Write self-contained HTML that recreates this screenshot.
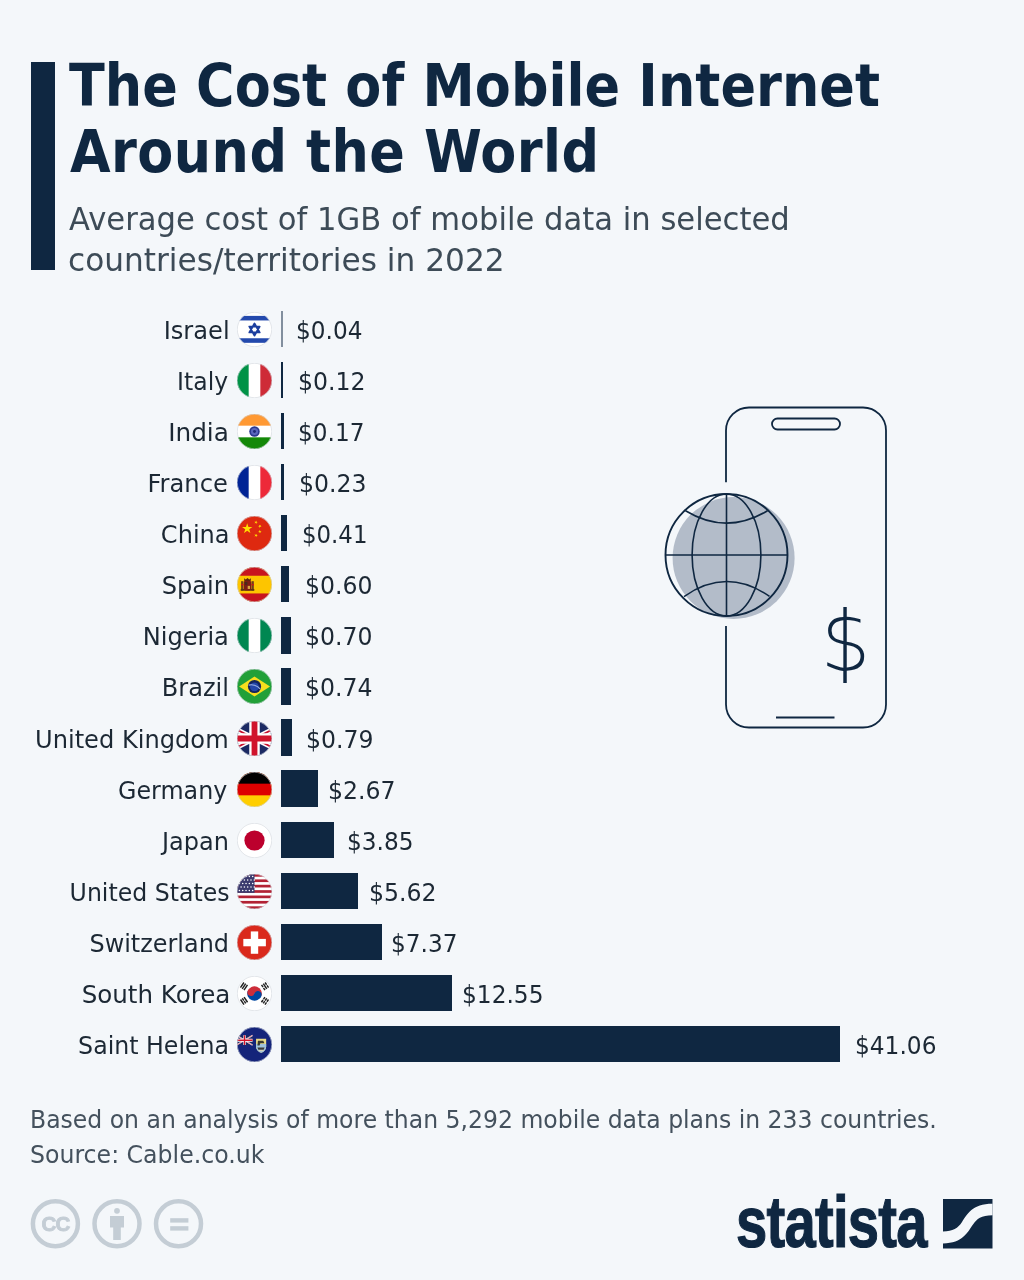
<!DOCTYPE html>
<html lang="en">
<head>
<meta charset="utf-8">
<title>The Cost of Mobile Internet Around the World</title>
<style>
html,body{margin:0;padding:0}
body{width:1024px;height:1280px;background:#f4f7fa;position:relative;overflow:hidden;font-family:"DejaVu Sans","Liberation Sans",sans-serif;color:#1c2834}
.abs{position:absolute}
.accent{left:31px;top:62px;width:23.5px;height:208px;background:#0f2741}
h1{margin:0;font-family:"DejaVu Sans Condensed","DejaVu Sans","Liberation Sans",sans-serif;font-weight:bold;font-size:58.3px;color:#0f2741}
h1 span,.sub span,.note span{position:absolute;white-space:nowrap;display:block;transform-origin:0 50%}
h1 span{line-height:70px;height:70px}
.sub{margin:0;font-size:32.4px;color:#3d4b57}
.sub span{line-height:44px;height:44px}
.lab{position:absolute;height:36px;line-height:36px;font-size:24px;white-space:nowrap;text-align:right;transform-origin:100% 50%}
.val{position:absolute;height:36px;line-height:36px;font-size:24px;white-space:nowrap;transform-origin:0 50%}
.bar{position:absolute;height:36.4px;background:#0f2741}
.flag{position:absolute;left:236.6px;width:35px;height:35px}
.note{margin:0;font-size:24px;color:#44515d}
.note span{line-height:34px;height:34px}
.logo{position:absolute;left:736px;top:1182px;font-family:"Liberation Sans",sans-serif;font-weight:bold;font-size:73px;line-height:80px;color:#0f2741;-webkit-text-stroke:1.2px #0f2741;transform-origin:0 0;transform:scaleX(0.77);white-space:nowrap;letter-spacing:-1px}
</style>
</head>
<body>
<div class="abs accent"></div>
<h1><span style="left:69.00px;top:50.50px;letter-spacing:0.038px">The Cost of Mobile Internet</span> <span style="left:70.00px;top:117.00px;letter-spacing:0.440px">Around the World</span></h1>
<p class="sub"><span style="left:69.00px;top:197.40px;transform:scaleX(0.9458)">Average cost of 1GB of mobile data in selected</span> <span style="left:68.00px;top:238.20px;transform:scaleX(0.9632)">countries/territories in 2022</span></p>

<div class="lab" style="top:313.00px;right:794.90px;transform:scaleX(1.0050)">Israel</div>
<svg class="flag" style="top:311.95px" viewBox="0 0 36 36"><clipPath id="c0"><circle cx="18" cy="18" r="18"/></clipPath><g clip-path="url(#c0)"><rect width="36" height="36" fill="#fff"/><rect y="4" width="36" height="4.7" fill="#2349ad"/><rect y="27" width="36" height="4.7" fill="#2349ad"/><path d="M18,11.9 23.3,21 12.7,21Z M18,24.1 12.7,15 23.3,15Z" fill="none" stroke="#1d3f9f" stroke-width="1.9" stroke-linejoin="round"/></g><circle cx="18" cy="18" r="17.7" fill="none" stroke="#cfd4da" stroke-width="0.6"/></svg>
<div class="bar" style="left:281.25px;top:310.8px;width:1.3px;opacity:.5"></div>
<div class="val" style="left:295.79px;top:313.00px;transform:scaleX(0.9662)">$0.04</div>
<div class="lab" style="top:364.07px;right:795.90px;transform:scaleX(0.9792)">Italy</div>
<svg class="flag" style="top:363.02px" viewBox="0 0 36 36"><clipPath id="c1"><circle cx="18" cy="18" r="18"/></clipPath><g clip-path="url(#c1)"><rect width="36" height="36" fill="#fff"/><rect width="12" height="36" fill="#009246"/><rect x="24" width="12" height="36" fill="#ce2b37"/></g><circle cx="18" cy="18" r="17.7" fill="none" stroke="#cfd4da" stroke-width="0.6"/></svg>
<div class="bar" style="left:281.25px;top:361.9px;width:1.6px"></div>
<div class="val" style="left:297.88px;top:364.07px;transform:scaleX(0.9826)">$0.12</div>
<div class="lab" style="top:415.14px;right:794.90px;transform:scaleX(1.0306)">India</div>
<svg class="flag" style="top:414.09px" viewBox="0 0 36 36"><clipPath id="c2"><circle cx="18" cy="18" r="18"/></clipPath><g clip-path="url(#c2)"><rect width="36" height="36" fill="#fff"/><rect width="36" height="12" fill="#ff9933"/><rect y="24" width="36" height="12" fill="#138808"/><circle cx="18" cy="18" r="5.4" fill="#2b3990"/><circle cx="18" cy="18" r="3.7" fill="#5a66bd"/><circle cx="18" cy="18" r="1.5" fill="#1f2a78"/></g><circle cx="18" cy="18" r="17.7" fill="none" stroke="#cfd4da" stroke-width="0.6"/></svg>
<div class="bar" style="left:281.25px;top:412.9px;width:2.3px"></div>
<div class="val" style="left:297.56px;top:415.14px;transform:scaleX(0.9662)">$0.17</div>
<div class="lab" style="top:466.21px;right:795.90px;transform:scaleX(1.0074)">France</div>
<svg class="flag" style="top:465.16px" viewBox="0 0 36 36"><clipPath id="c3"><circle cx="18" cy="18" r="18"/></clipPath><g clip-path="url(#c3)"><rect width="36" height="36" fill="#fff"/><rect width="12" height="36" fill="#002395"/><rect x="24" width="12" height="36" fill="#ed2939"/></g><circle cx="18" cy="18" r="17.7" fill="none" stroke="#cfd4da" stroke-width="0.6"/></svg>
<div class="bar" style="left:281.25px;top:464.0px;width:3.1px"></div>
<div class="val" style="left:299.38px;top:466.21px;transform:scaleX(0.9816)">$0.23</div>
<div class="lab" style="top:517.28px;right:794.90px;transform:scaleX(1.0024)">China</div>
<svg class="flag" style="top:516.23px" viewBox="0 0 36 36"><clipPath id="c4"><circle cx="18" cy="18" r="18"/></clipPath><g clip-path="url(#c4)"><rect width="36" height="36" fill="#de2910"/><polygon transform="translate(10.5,13) rotate(0) scale(5.6)" points="0,-1 0.2245,-0.309 0.951,-0.309 0.363,0.118 0.588,0.809 0,0.382 -0.588,0.809 -0.363,0.118 -0.951,-0.309 -0.2245,-0.309" fill="#ffde00"/><polygon transform="translate(19.5,6.5) rotate(20) scale(1.9)" points="0,-1 0.2245,-0.309 0.951,-0.309 0.363,0.118 0.588,0.809 0,0.382 -0.588,0.809 -0.363,0.118 -0.951,-0.309 -0.2245,-0.309" fill="#ffde00"/><polygon transform="translate(23.5,10.5) rotate(40) scale(1.9)" points="0,-1 0.2245,-0.309 0.951,-0.309 0.363,0.118 0.588,0.809 0,0.382 -0.588,0.809 -0.363,0.118 -0.951,-0.309 -0.2245,-0.309" fill="#ffde00"/><polygon transform="translate(23.5,16) rotate(0) scale(1.9)" points="0,-1 0.2245,-0.309 0.951,-0.309 0.363,0.118 0.588,0.809 0,0.382 -0.588,0.809 -0.363,0.118 -0.951,-0.309 -0.2245,-0.309" fill="#ffde00"/><polygon transform="translate(19.5,20) rotate(20) scale(1.9)" points="0,-1 0.2245,-0.309 0.951,-0.309 0.363,0.118 0.588,0.809 0,0.382 -0.588,0.809 -0.363,0.118 -0.951,-0.309 -0.2245,-0.309" fill="#ffde00"/></g><circle cx="18" cy="18" r="17.7" fill="none" stroke="#cfd4da" stroke-width="0.6"/></svg>
<div class="bar" style="left:281.25px;top:515.1px;width:5.6px"></div>
<div class="val" style="left:301.83px;top:517.28px;transform:scaleX(0.9522)">$0.41</div>
<div class="lab" style="top:568.35px;right:794.90px;transform:scaleX(1.0040)">Spain</div>
<svg class="flag" style="top:567.30px" viewBox="0 0 36 36"><clipPath id="c5"><circle cx="18" cy="18" r="18"/></clipPath><g clip-path="url(#c5)"><rect width="36" height="36" fill="#fdc500"/><rect width="36" height="9" fill="#c8141e"/><rect y="27.2" width="36" height="9" fill="#c8141e"/><rect x="4.2" y="14.6" width="2.4" height="9.6" fill="#70401c"/><rect x="14.9" y="14.6" width="2.4" height="9.6" fill="#70401c"/><rect x="3.8" y="22.6" width="14" height="1.8" fill="#5b3414"/><rect x="7" y="14" width="7.6" height="10.2" rx="2" fill="#7d1d15"/><path d="M7.6,14.4 L7.2,11.6 9,12.8 10.8,11.2 12.6,12.8 14.4,11.6 14,14.4Z" fill="#5e2410"/><rect x="8.2" y="15.4" width="2.4" height="3.2" fill="#4a2a18"/><rect x="11" y="19.4" width="2.4" height="3.2" fill="#d9a441"/><rect x="4.2" y="17.4" width="2.4" height="1.4" fill="#c8141e"/><rect x="14.9" y="17.4" width="2.4" height="1.4" fill="#c8141e"/></g><circle cx="18" cy="18" r="17.7" fill="none" stroke="#cfd4da" stroke-width="0.6"/></svg>
<div class="bar" style="left:281.25px;top:566.1px;width:8.2px"></div>
<div class="val" style="left:305.42px;top:568.35px;transform:scaleX(0.9816)">$0.60</div>
<div class="lab" style="top:619.42px;right:794.90px;transform:scaleX(1.0037)">Nigeria</div>
<svg class="flag" style="top:618.37px" viewBox="0 0 36 36"><clipPath id="c6"><circle cx="18" cy="18" r="18"/></clipPath><g clip-path="url(#c6)"><rect width="36" height="36" fill="#fff"/><rect width="12" height="36" fill="#008751"/><rect x="24" width="12" height="36" fill="#008751"/></g><circle cx="18" cy="18" r="17.7" fill="none" stroke="#cfd4da" stroke-width="0.6"/></svg>
<div class="bar" style="left:281.25px;top:617.2px;width:9.5px"></div>
<div class="val" style="left:304.78px;top:619.42px;transform:scaleX(0.9816)">$0.70</div>
<div class="lab" style="top:670.49px;right:794.90px;transform:scaleX(1.0040)">Brazil</div>
<svg class="flag" style="top:669.44px" viewBox="0 0 36 36"><clipPath id="c7"><circle cx="18" cy="18" r="18"/></clipPath><g clip-path="url(#c7)"><rect width="36" height="36" fill="#21a038"/><polygon points="2.2,18 18,7.8 34,18 18,28.2" fill="#f7df1e"/><circle cx="18" cy="18" r="6.8" fill="#14245a"/><circle cx="18" cy="18.4" r="4.6" fill="#2446a8"/><path d="M12,16.6 C15.5,15.4 20.5,16.8 23.8,20.4" fill="none" stroke="#9fb4e6" stroke-width="1.2"/></g><circle cx="18" cy="18" r="17.7" fill="none" stroke="#cfd4da" stroke-width="0.6"/></svg>
<div class="bar" style="left:281.25px;top:668.3px;width:10.1px"></div>
<div class="val" style="left:305.32px;top:670.49px;transform:scaleX(0.9813)">$0.74</div>
<div class="lab" style="top:721.56px;right:794.90px;transform:scaleX(1.0052)">United Kingdom</div>
<svg class="flag" style="top:720.51px" viewBox="0 0 36 36"><clipPath id="c8"><circle cx="18" cy="18" r="18"/></clipPath><g clip-path="url(#c8)"><g transform="translate(-18,0) scale(1.2,1.2)"><rect width="60" height="30" fill="#1b2a63"/><path d="M0,0 60,30M60,0 0,30" stroke="#fff" stroke-width="4.4"/><path d="M0,0 60,30M60,0 0,30" stroke="#c8102e" stroke-width="1.5"/><path d="M30,0v30M0,15h60" stroke="#fff" stroke-width="9"/><path d="M30,0v30M0,15h60" stroke="#d0142c" stroke-width="5"/></g></g><circle cx="18" cy="18" r="17.7" fill="none" stroke="#cfd4da" stroke-width="0.6"/></svg>
<div class="bar" style="left:281.25px;top:719.4px;width:10.8px"></div>
<div class="val" style="left:306.00px;top:721.56px;transform:scaleX(0.9813)">$0.79</div>
<div class="lab" style="top:772.63px;right:796.90px;transform:scaleX(0.9907)">Germany</div>
<svg class="flag" style="top:771.58px" viewBox="0 0 36 36"><clipPath id="c9"><circle cx="18" cy="18" r="18"/></clipPath><g clip-path="url(#c9)"><rect width="36" height="36" fill="#ffce00"/><rect width="36" height="24" fill="#dd0000"/><rect width="36" height="12" fill="#000"/></g><circle cx="18" cy="18" r="17.7" fill="none" stroke="#cfd4da" stroke-width="0.6"/></svg>
<div class="bar" style="left:281.25px;top:770.4px;width:36.3px"></div>
<div class="val" style="left:327.59px;top:772.63px;transform:scaleX(0.9815)">$2.67</div>
<div class="lab" style="top:823.70px;right:794.90px;transform:scaleX(1.0014)">Japan</div>
<svg class="flag" style="top:822.65px" viewBox="0 0 36 36"><clipPath id="c10"><circle cx="18" cy="18" r="18"/></clipPath><g clip-path="url(#c10)"><rect width="36" height="36" fill="#fff"/><circle cx="18" cy="18" r="10.4" fill="#bc002d"/></g><circle cx="18" cy="18" r="17.7" fill="none" stroke="#cfd4da" stroke-width="0.6"/></svg>
<div class="bar" style="left:281.25px;top:821.5px;width:52.4px"></div>
<div class="val" style="left:346.65px;top:823.70px;transform:scaleX(0.9670)">$3.85</div>
<div class="lab" style="top:874.77px;right:794.90px;transform:scaleX(0.9839)">United States</div>
<svg class="flag" style="top:873.72px" viewBox="0 0 36 36"><clipPath id="c11"><circle cx="18" cy="18" r="18"/></clipPath><g clip-path="url(#c11)"><rect width="36" height="36" fill="#fff"/><rect y="0.00" width="36" height="2.77" fill="#b22234"/><rect y="5.54" width="36" height="2.77" fill="#b22234"/><rect y="11.08" width="36" height="2.77" fill="#b22234"/><rect y="16.62" width="36" height="2.77" fill="#b22234"/><rect y="22.15" width="36" height="2.77" fill="#b22234"/><rect y="27.69" width="36" height="2.77" fill="#b22234"/><rect y="33.23" width="36" height="2.77" fill="#b22234"/><rect width="18" height="19.4" fill="#3c3b6e"/><circle cx="2.5" cy="2.6" r="0.8" fill="#fff"/><circle cx="5.9" cy="2.6" r="0.8" fill="#fff"/><circle cx="9.3" cy="2.6" r="0.8" fill="#fff"/><circle cx="12.7" cy="2.6" r="0.8" fill="#fff"/><circle cx="16.1" cy="2.6" r="0.8" fill="#fff"/><circle cx="4.2" cy="6.2" r="0.8" fill="#fff"/><circle cx="7.6" cy="6.2" r="0.8" fill="#fff"/><circle cx="11.0" cy="6.2" r="0.8" fill="#fff"/><circle cx="14.4" cy="6.2" r="0.8" fill="#fff"/><circle cx="17.8" cy="6.2" r="0.8" fill="#fff"/><circle cx="2.5" cy="9.8" r="0.8" fill="#fff"/><circle cx="5.9" cy="9.8" r="0.8" fill="#fff"/><circle cx="9.3" cy="9.8" r="0.8" fill="#fff"/><circle cx="12.7" cy="9.8" r="0.8" fill="#fff"/><circle cx="16.1" cy="9.8" r="0.8" fill="#fff"/><circle cx="4.2" cy="13.4" r="0.8" fill="#fff"/><circle cx="7.6" cy="13.4" r="0.8" fill="#fff"/><circle cx="11.0" cy="13.4" r="0.8" fill="#fff"/><circle cx="14.4" cy="13.4" r="0.8" fill="#fff"/><circle cx="17.8" cy="13.4" r="0.8" fill="#fff"/><circle cx="2.5" cy="17.0" r="0.8" fill="#fff"/><circle cx="5.9" cy="17.0" r="0.8" fill="#fff"/><circle cx="9.3" cy="17.0" r="0.8" fill="#fff"/><circle cx="12.7" cy="17.0" r="0.8" fill="#fff"/><circle cx="16.1" cy="17.0" r="0.8" fill="#fff"/></g><circle cx="18" cy="18" r="17.7" fill="none" stroke="#cfd4da" stroke-width="0.6"/></svg>
<div class="bar" style="left:281.25px;top:872.6px;width:76.5px"></div>
<div class="val" style="left:368.74px;top:874.77px;transform:scaleX(0.9824)">$5.62</div>
<div class="lab" style="top:925.84px;right:794.90px;transform:scaleX(0.9968)">Switzerland</div>
<svg class="flag" style="top:924.79px" viewBox="0 0 36 36"><clipPath id="c12"><circle cx="18" cy="18" r="18"/></clipPath><g clip-path="url(#c12)"><rect width="36" height="36" fill="#da291c"/><rect x="14.2" y="6.6" width="7.6" height="23" fill="#fff"/><rect x="6.5" y="14.3" width="23.2" height="7.6" fill="#fff"/></g><circle cx="18" cy="18" r="17.7" fill="none" stroke="#cfd4da" stroke-width="0.6"/></svg>
<div class="bar" style="left:281.25px;top:923.6px;width:100.3px"></div>
<div class="val" style="left:390.56px;top:925.84px;transform:scaleX(0.9662)">$7.37</div>
<div class="lab" style="top:976.91px;right:793.90px;transform:scaleX(1.0232)">South Korea</div>
<svg class="flag" style="top:975.86px" viewBox="0 0 36 36"><clipPath id="c13"><circle cx="18" cy="18" r="18"/></clipPath><g clip-path="url(#c13)"><rect width="36" height="36" fill="#fff"/><g transform="rotate(20 18 18)"><path d="M10.5,18a7.5,7.5 0 0 1 15,0z" fill="#cd2e3a"/><path d="M10.5,18a7.5,7.5 0 0 0 15,0z" fill="#0047a0"/><circle cx="14.25" cy="18" r="3.75" fill="#cd2e3a"/><circle cx="21.75" cy="18" r="3.75" fill="#0047a0"/></g><g transform="translate(7.2,10.6) rotate(-56)"><rect x="-3.2" y="-3.0" width="6.4" height="1.5" fill="#222"/><rect x="-3.2" y="-0.8" width="6.4" height="1.5" fill="#222"/><rect x="-3.2" y="1.4" width="6.4" height="1.5" fill="#222"/></g><g transform="translate(28.8,10.6) rotate(56)"><rect x="-3.2" y="-3.0" width="2.8" height="1.5" fill="#222"/><rect x="0.4" y="-3.0" width="2.8" height="1.5" fill="#222"/><rect x="-3.2" y="-0.8" width="6.4" height="1.5" fill="#222"/><rect x="-3.2" y="1.4" width="2.8" height="1.5" fill="#222"/><rect x="0.4" y="1.4" width="2.8" height="1.5" fill="#222"/></g><g transform="translate(7.2,25.6) rotate(56)"><rect x="-3.2" y="-3.0" width="6.4" height="1.5" fill="#222"/><rect x="-3.2" y="-0.8" width="2.8" height="1.5" fill="#222"/><rect x="0.4" y="-0.8" width="2.8" height="1.5" fill="#222"/><rect x="-3.2" y="1.4" width="6.4" height="1.5" fill="#222"/></g><g transform="translate(28.8,25.6) rotate(-56)"><rect x="-3.2" y="-3.0" width="2.8" height="1.5" fill="#222"/><rect x="0.4" y="-3.0" width="2.8" height="1.5" fill="#222"/><rect x="-3.2" y="-0.8" width="2.8" height="1.5" fill="#222"/><rect x="0.4" y="-0.8" width="2.8" height="1.5" fill="#222"/><rect x="-3.2" y="1.4" width="2.8" height="1.5" fill="#222"/><rect x="0.4" y="1.4" width="2.8" height="1.5" fill="#222"/></g></g><circle cx="18" cy="18" r="17.7" fill="none" stroke="#cfd4da" stroke-width="0.6"/></svg>
<div class="bar" style="left:281.25px;top:974.7px;width:170.8px"></div>
<div class="val" style="left:462.06px;top:976.91px;transform:scaleX(0.9706)">$12.55</div>
<div class="lab" style="top:1027.98px;right:794.90px;transform:scaleX(0.9862)">Saint Helena</div>
<svg class="flag" style="top:1026.93px" viewBox="0 0 36 36"><clipPath id="c14"><circle cx="18" cy="18" r="18"/></clipPath><g clip-path="url(#c14)"><rect width="36" height="36" fill="#14247a"/><g transform="translate(-0.5,8.6) scale(0.275,0.3333333333333333)"><rect width="60" height="30" fill="#1b2a63"/><path d="M0,0 60,30M60,0 0,30" stroke="#fff" stroke-width="4.4"/><path d="M0,0 60,30M60,0 0,30" stroke="#c8102e" stroke-width="1.5"/><path d="M30,0v30M0,15h60" stroke="#fff" stroke-width="9"/><path d="M30,0v30M0,15h60" stroke="#d0142c" stroke-width="5"/></g><path d="M19.6,12h10.4v8c0,3.4-2.4,5.6-5.2,6.6c-2.8,-1-5.2,-3.2-5.2,-6.6z" fill="#e9dc8a"/><path d="M19.6,17.5h10.4v2.5c0,3.4-2.4,5.6-5.2,6.6c-2.8,-1-5.2,-3.2-5.2,-6.6z" fill="#9fc3dd"/><path d="M21.5,14.2h5.5l1.2,2.6h-4.2l-.8,2.2h-2.2z" fill="#3a3a32"/><path d="M21,21.2h7.4l-1,2.2h-5.4z" fill="#3d3a36"/><rect x="22.4" y="23.6" width="4.8" height="1.2" fill="#d8d2b4"/></g><circle cx="18" cy="18" r="17.7" fill="none" stroke="#cfd4da" stroke-width="0.6"/></svg>
<div class="bar" style="left:281.25px;top:1025.8px;width:558.8px"></div>
<div class="val" style="left:855.08px;top:1027.98px;transform:scaleX(0.9697)">$41.06</div>

<svg class="abs" style="left:640px;top:390px" width="270" height="360" viewBox="640 390 270 360">
<circle cx="733.6" cy="558" r="61" fill="#b3bcc9"/>
<path d="M726,482.3 V430.5 a23,23 0 0 1 23,-23 H863 a23,23 0 0 1 23,23 V704.5 a23,23 0 0 1 -23,23 H749 a23,23 0 0 1 -23,-23 V626" fill="none" stroke="#0f2741" stroke-width="1.8"/>
<rect x="772" y="418.5" width="68" height="11" rx="5.5" fill="none" stroke="#0f2741" stroke-width="1.8"/>
<path d="M776,717.5H834.5" stroke="#0f2741" stroke-width="1.8"/>
<g fill="none" stroke="#0f2741" stroke-width="1.6">
<circle cx="726.5" cy="555" r="61" stroke-width="1.9"/>
<ellipse cx="726.5" cy="555" rx="34.4" ry="61"/>
<path d="M726.5,494V616M665.5,555H787.5"/>
<path d="M685.5,510.7 Q726.5,535.5 767.5,510.7"/>
<path d="M684,596.6 Q726.5,566.6 769.5,596.4"/>
</g>
<text transform="translate(845.7,670.7) scale(0.935,1)" x="0" y="0" text-anchor="middle" font-family="'DejaVu Sans Light','DejaVu Sans','Liberation Sans',sans-serif" font-weight="200" font-size="83.5" fill="#0f2741">$</text>
</svg>

<p class="note"><span style="left:30.00px;top:1103.00px;transform:scaleX(0.9803)">Based on an analysis of more than 5,292 mobile data plans in 233 countries.</span> <span style="left:30.00px;top:1138.00px;transform:scaleX(0.9845)">Source: Cable.co.uk</span></p>

<svg class="abs" style="left:24px;top:1190px" width="200" height="68" viewBox="24 1190 200 68">
<g fill="none" stroke="#c4cdd5" stroke-width="4.5">
<circle cx="55.4" cy="1223.7" r="22.5"/><circle cx="117" cy="1223.7" r="22.5"/><circle cx="178.5" cy="1223.7" r="22.5"/>
</g>
<text x="55.4" y="1231" text-anchor="middle" font-family="'Liberation Sans',sans-serif" font-weight="700" font-size="20.5" fill="#c4cdd5" stroke="#c4cdd5" stroke-width="0.9" style="font-weight:bold;letter-spacing:-0.8px">CC</text>
<g fill="#c4cdd5"><circle cx="117" cy="1210.8" r="2.9"/><path d="M110,1216h14v11.5h-3.2v12.5h-7.6v-12.5h-3.2z"/>
<rect x="170.2" y="1218.2" width="18.2" height="4.4"/><rect x="170.2" y="1226.2" width="18.2" height="4.4"/></g>
</svg>
<div class="logo">statista</div>
<svg class="abs" style="left:943.2px;top:1199px" width="49.5" height="49.5" viewBox="0 0 49.5 49.5"><rect width="49.5" height="49.5" fill="#0f2741"/><path d="M0,32.5 C10,32.5 15,29 19,23 C24,15.5 29,4.7 49.5,4.7 L49.5,16.3 C38,16.3 34,20 30,25.5 C25,32.5 20,44.4 0,44.4 Z" fill="#f4f7fa"/></svg>
</body>
</html>
